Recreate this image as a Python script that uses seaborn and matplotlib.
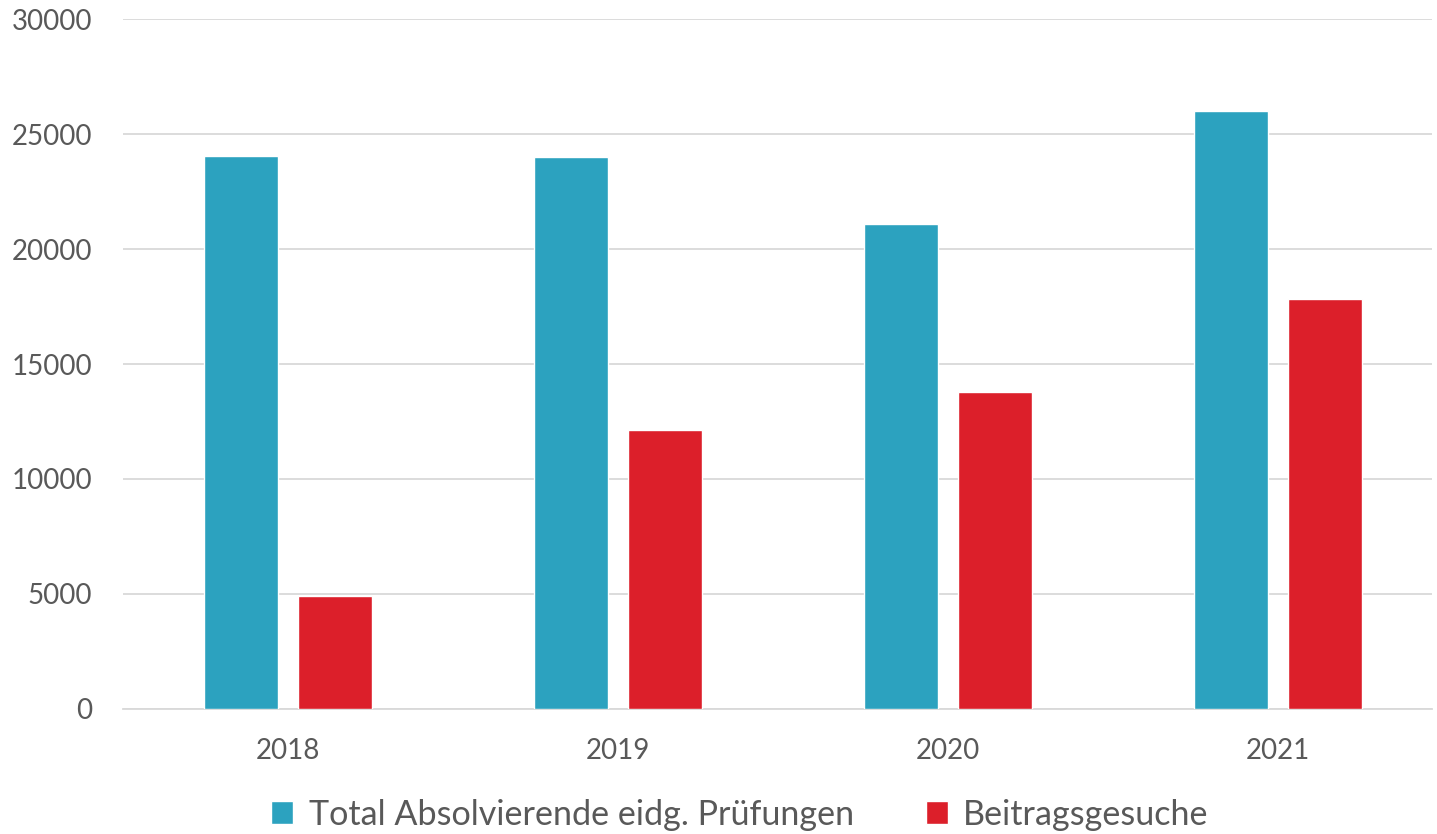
"""Absolvierende eidg. Prüfungen vs. Beitragsgesuche, 2018–2021."""

import matplotlib.pyplot as plt
import pandas as pd
import seaborn as sns

jahre = ["2018", "2019", "2020", "2021"]
absolvierende = [24030, 24015, 21070, 26015]
beitragsgesuche = [4920, 12130, 13780, 17810]
serien = ["Total Absolvierende eidg. Prüfungen", "Beitragsgesuche"]
farben = ["#2CA2BF", "#DC1F2A"]

df = pd.DataFrame({
    "Jahr": jahre * 2,
    "Wert": absolvierende + beitragsgesuche,
    "Serie": [serien[0]] * len(jahre) + [serien[1]] * len(jahre),
})

sns.set_style("white")
plt.rcParams["font.family"] = ["Lato", "DejaVu Sans"]

fig = plt.figure(figsize=(14.37, 8.34), dpi=100)
ax = fig.add_axes([0.0856, 0.150, 0.911, 0.827])

sns.barplot(data=df, x="Jahr", y="Wert", hue="Serie", palette=farben,
            width=0.57, gap=0.21, saturation=1, ax=ax, zorder=3)

ax.set_ylim(0, 30000)
ax.set_xlim(-0.5, 3.467)
ax.set_yticks(range(0, 30001, 5000))
ax.yaxis.grid(True, color="#D9D9D9", linewidth=1.3, zorder=0)
ax.set_axisbelow(True)
for side in ["top", "right", "left"]:
    ax.spines[side].set_visible(False)
ax.spines["bottom"].set_color("#D9D9D9")
ax.spines["bottom"].set_linewidth(1.3)
ax.tick_params(axis="y", length=0, pad=22, labelsize=20, labelcolor="#595959")
ax.tick_params(axis="x", length=0, pad=21, labelsize=20, labelcolor="#595959")
ax.set_xlabel("")
ax.set_ylabel("")

handles, labels = ax.get_legend_handles_labels()
ax.legend_.remove()
fig.legend(handles, labels, loc="lower center", bbox_to_anchor=(0.515, -0.033),
           ncol=2, frameon=False, fontsize=24.6, labelcolor="#595959",
           handlelength=0.65, handleheight=0.65, handletextpad=0.45,
           columnspacing=2.1)

fig.savefig("out.png", dpi=100)
